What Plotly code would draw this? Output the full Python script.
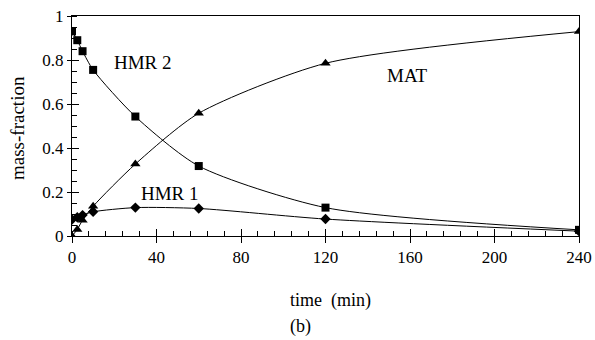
import plotly.graph_objects as go

time_hmr2 = [0, 2.5, 5, 10, 30, 60, 120, 240]
hmr2 = [0.93, 0.89, 0.84, 0.755, 0.543, 0.318, 0.129, 0.028]

time_mat = [0, 2.5, 5, 10, 30, 60, 120, 240]
mat = [0.0, 0.03, 0.072, 0.135, 0.327, 0.558, 0.785, 0.929]

time_hmr1 = [0, 2.5, 5, 10, 30, 60, 120, 240]
hmr1 = [0.075, 0.085, 0.095, 0.11, 0.129, 0.125, 0.077, 0.022]

x_ticks = [0, 40, 80, 120, 160, 200, 240]
y_ticks = [0, 0.2, 0.4, 0.6, 0.8, 1]
y_tick_labels = ["0", "0.2", "0.4", "0.6", "0.8", "1"]

FONT = "Liberation Serif"
L, R, T, B = 72, 579, 16, 236

fig = go.Figure()
line = dict(color="black", width=1, shape="spline", smoothing=0.7)
fig.add_trace(go.Scatter(x=time_hmr1, y=hmr1, mode="lines+markers", line=line,
                         marker=dict(symbol="diamond", size=8, color="black"), name="HMR 1"))
fig.add_trace(go.Scatter(x=time_mat, y=mat, mode="lines+markers", line=line,
                         marker=dict(symbol="triangle-up", size=9, color="black"), name="MAT"))
fig.add_trace(go.Scatter(x=time_hmr2, y=hmr2, mode="lines+markers", line=line,
                         marker=dict(symbol="square", size=8, color="black"), name="HMR 2"))
fig.add_trace(go.Scatter(x=[0], y=[0], xaxis="x2", yaxis="y2", mode="markers",
                         marker=dict(opacity=0), showlegend=False, hoverinfo="skip"))

fig.update_layout(
    width=595, height=340,
    margin=dict(l=L, r=595 - R, t=T, b=340 - B, autoexpand=False),
    paper_bgcolor="white", plot_bgcolor="white",
    showlegend=False,
    font=dict(family=FONT, size=17, color="black"),
    xaxis=dict(range=[0, 240], tickvals=x_ticks, ticktext=[str(v) for v in x_ticks],
               showgrid=False, zeroline=False, showline=True, linecolor="black", linewidth=1,
               mirror=True, ticks="outside", ticklen=6, tickcolor="black", automargin=False,
               minor=dict(ticks="inside", dtick=8, tick0=0, ticklen=5, tickcolor="black", showgrid=False),
               tickfont=dict(family=FONT, size=17), fixedrange=True),
    yaxis=dict(range=[0, 1], tickvals=y_ticks, ticktext=y_tick_labels,
               showgrid=False, zeroline=False, showline=True, linecolor="black", linewidth=1,
               mirror=True, ticks="outside", ticklen=4, tickcolor="black", automargin=False,
               minor=dict(ticks="inside", dtick=0.05, tick0=0, ticklen=5, tickcolor="black", showgrid=False),
               tickfont=dict(family=FONT, size=17), fixedrange=True),
    xaxis2=dict(range=[0, 240], overlaying="x", tickvals=x_ticks, showticklabels=False,
                ticks="inside", ticklen=7, tickcolor="black", showgrid=False, zeroline=False,
                showline=False, side="bottom", automargin=False, fixedrange=True),
    yaxis2=dict(range=[0, 1], overlaying="y", tickvals=y_ticks, showticklabels=False,
                ticks="inside", ticklen=7, tickcolor="black", showgrid=False, zeroline=False,
                showline=False, side="left", automargin=False, fixedrange=True),
)

def px_ann(xp, yp, text, size=18, angle=0):
    fig.add_annotation(x=(xp - L) / (R - L), y=(B - yp) / (B - T), xref="paper", yref="paper",
                       text=text, textangle=angle, showarrow=False,
                       font=dict(family=FONT, size=size, color="black"),
                       xanchor="center", yanchor="middle")

px_ann(143, 62, "HMR 2", size=19)
px_ann(170, 193, "HMR 1", size=19)
px_ann(407, 75, "MAT", size=19)
px_ann(330, 300, "time  (min)", size=18)
px_ann(300, 326, "(b)", size=18)
px_ann(18, 128, "mass-fraction", size=19, angle=-90)

fig.write_html("out.html", config={"displayModeBar": False},
               post_script="document.body.style.margin='0';document.body.style.overflow='hidden';")
